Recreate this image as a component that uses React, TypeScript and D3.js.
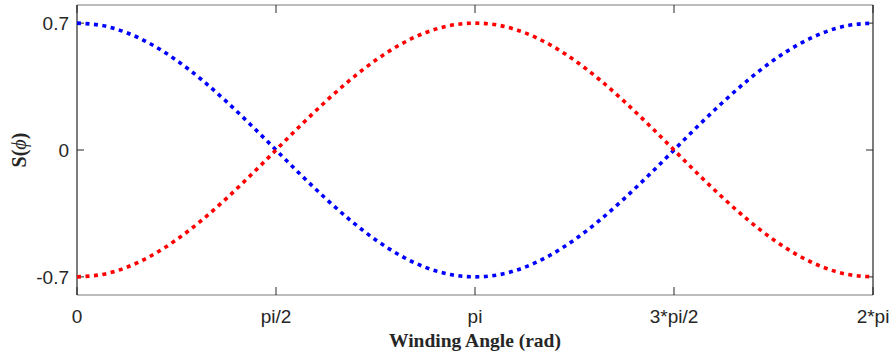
import React from "react";
import * as d3 from "d3";

// Sample angles as multiples of pi/16 over one full turn
const angleSteps: number[] = Array.from({ length: 33 }, (_, i) => i);
const blueValues: number[] = [
  0.7, 0.687, 0.647, 0.582, 0.495, 0.389, 0.268, 0.137, 0.0,
  -0.137, -0.268, -0.389, -0.495, -0.582, -0.647, -0.687, -0.7,
  -0.687, -0.647, -0.582, -0.495, -0.389, -0.268, -0.137, 0.0,
  0.137, 0.268, 0.389, 0.495, 0.582, 0.647, 0.687, 0.7,
];
const redValues: number[] = [
  -0.7, -0.687, -0.647, -0.582, -0.495, -0.389, -0.268, -0.137, 0.0,
  0.137, 0.268, 0.389, 0.495, 0.582, 0.647, 0.687, 0.7,
  0.687, 0.647, 0.582, 0.495, 0.389, 0.268, 0.137, 0.0,
  -0.137, -0.268, -0.389, -0.495, -0.582, -0.647, -0.687, -0.7,
];
const xTickValues: number[] = [0, Math.PI / 2, Math.PI, (3 * Math.PI) / 2, 2 * Math.PI];
const xTickLabels: string[] = ["0", "pi/2", "pi", "3*pi/2", "2*pi"];
const yTickValues: number[] = [-0.7, 0, 0.7];
const yTickLabels: string[] = ["-0.7", "0", "0.7"];

const W = 893;
const H = 358;
const left = 77;
const right = 873;
const top = 5;
const bottom = 295;

export default function App() {
  const x = d3.scaleLinear().domain([0, 2 * Math.PI]).range([left, right]);
  const y = d3.scaleLinear().domain([-0.8, 0.8]).range([bottom, top]);
  const line = d3
    .line<[number, number]>()
    .x((d) => x(d[0]))
    .y((d) => y(d[1]))
    .curve(d3.curveNatural);
  const pts = (vals: number[]) =>
    angleSteps.map((k, i) => [(k * Math.PI) / 16, vals[i]] as [number, number]);

  const tickFont = "'Liberation Sans', Arial, sans-serif";
  const labelFont = "'Liberation Serif', 'Times New Roman', serif";
  const axisDark = "#262626";
  const axisGray = "#a6a6a6";

  return (
    <svg
      width={W}
      height={H}
      style={{ position: "absolute", left: 0, top: 0, background: "#fff" }}
    >
      {/* frame */}
      <line x1={left} x2={right} y1={top} y2={top} stroke={axisGray} strokeWidth={1.5} />
      <line x1={left} x2={right} y1={bottom} y2={bottom} stroke={axisGray} strokeWidth={1.5} />
      <line x1={left} x2={left} y1={top} y2={bottom} stroke={axisDark} strokeWidth={1.2} />
      <line x1={right} x2={right} y1={top} y2={bottom} stroke={axisDark} strokeWidth={1.2} />

      {/* x ticks */}
      {xTickValues.map((v, i) => (
        <g key={"xt" + i}>
          <line x1={x(v)} x2={x(v)} y1={bottom} y2={bottom - 8} stroke={axisDark} strokeWidth={1} />
          <line x1={x(v)} x2={x(v)} y1={top} y2={top + 8} stroke={axisDark} strokeWidth={1} />
          <text
            x={x(v)}
            y={323}
            textAnchor="middle"
            fontFamily={tickFont}
            fontSize={19}
            fill={axisDark}
          >
            {xTickLabels[i]}
          </text>
        </g>
      ))}

      {/* y ticks */}
      {yTickValues.map((v, i) => (
        <g key={"yt" + i}>
          <line x1={left} x2={left + 7} y1={y(v)} y2={y(v)} stroke={axisDark} strokeWidth={1} />
          <line x1={right} x2={right - 7} y1={y(v)} y2={y(v)} stroke={axisDark} strokeWidth={1} />
          <text
            x={69}
            y={y(v)}
            dy="0.35em"
            textAnchor="end"
            fontFamily={tickFont}
            fontSize={19}
            fill={axisDark}
          >
            {yTickLabels[i]}
          </text>
        </g>
      ))}

      {/* curves */}
      <path
        d={line(pts(blueValues)) ?? ""}
        fill="none"
        stroke="#0000ff"
        strokeWidth={3.6}
        strokeDasharray="4 4.5"
      />
      <path
        d={line(pts(redValues)) ?? ""}
        fill="none"
        stroke="#ff0000"
        strokeWidth={3.6}
        strokeDasharray="4 4.5"
      />

      {/* axis titles */}
      <text
        x={(left + right) / 2}
        y={347}
        textAnchor="middle"
        fontFamily={labelFont}
        fontWeight="bold"
        fontSize={19.5}
        fill={axisDark}
      >
        Winding Angle (rad)
      </text>
      <text
        transform={`translate(26, ${y(0)}) rotate(-90)`}
        textAnchor="middle"
        fontFamily={labelFont}
        fontWeight="bold"
        fontSize={20}
        fill={axisDark}
      >
        S(<tspan fontStyle="italic" fontWeight="normal">ϕ</tspan>)
      </text>
    </svg>
  );
}
